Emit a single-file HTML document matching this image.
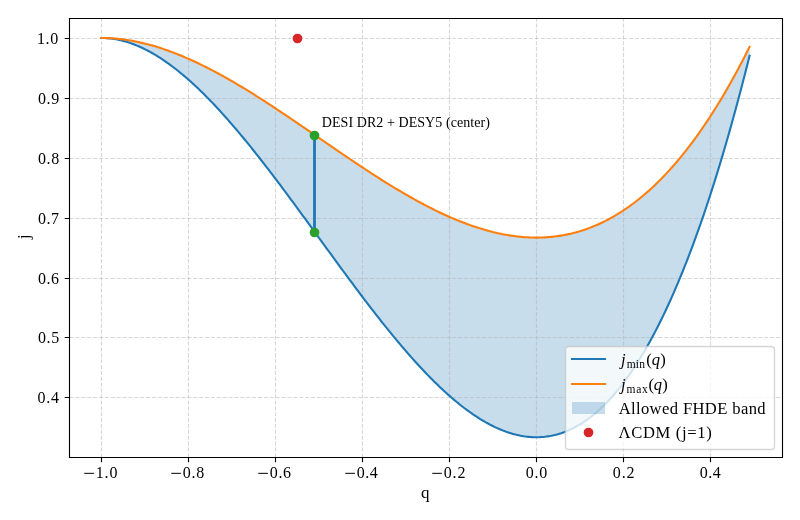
<!DOCTYPE html>
<html><head><meta charset="utf-8"><title>j(q) allowed FHDE band</title>
<style>html,body{margin:0;padding:0;background:#fff;}svg{display:block;will-change:transform;}text{font-family:"Liberation Serif",serif;fill:#000;}</style></head><body>
<svg width="800" height="520" viewBox="0 0 800 520">
<rect x="0" y="0" width="800" height="520" fill="#fff"/>
<polygon points="101.23,37.96 102.85,37.98 104.48,38.03 106.10,38.11 107.73,38.23 109.35,38.38 110.98,38.56 112.60,38.77 114.23,39.01 115.85,39.29 117.48,39.59 119.10,39.93 120.73,40.30 122.35,40.70 123.98,41.12 125.60,41.58 127.23,42.07 128.85,42.59 130.48,43.13 132.10,43.71 133.73,44.31 135.35,44.95 136.98,45.61 138.60,46.29 140.23,47.01 141.85,47.75 143.48,48.52 145.10,49.32 146.73,50.15 148.35,51.00 149.98,51.87 151.60,52.78 153.23,53.71 154.85,54.66 156.48,55.64 158.10,56.64 159.73,57.67 161.35,58.73 162.98,59.80 164.60,60.90 166.23,62.03 167.85,63.18 169.48,64.35 171.10,65.54 172.73,66.76 174.35,68.00 175.98,69.26 177.60,70.55 179.23,71.85 180.85,73.18 182.48,74.53 184.10,75.89 185.73,77.28 187.35,78.69 188.98,80.12 190.60,81.57 192.23,83.04 193.85,84.53 195.48,86.04 197.10,87.57 198.73,89.12 200.35,90.68 201.98,92.26 203.60,93.86 205.23,95.48 206.85,97.12 208.48,98.77 210.10,100.44 211.73,102.13 213.35,103.83 214.98,105.55 216.60,107.28 218.23,109.04 219.85,110.80 221.48,112.58 223.10,114.38 224.73,116.19 226.35,118.02 227.98,119.86 229.60,121.71 231.22,123.58 232.85,125.46 234.47,127.35 236.10,129.26 237.72,131.18 239.35,133.11 240.97,135.06 242.60,137.01 244.22,138.98 245.85,140.96 247.47,142.95 249.10,144.95 250.72,146.96 252.35,148.99 253.97,151.02 255.60,153.06 257.22,155.12 258.85,157.18 260.47,159.25 262.10,161.33 263.72,163.42 265.35,165.52 266.97,167.62 268.60,169.74 270.22,171.86 271.85,173.99 273.47,176.12 275.10,178.26 276.72,180.41 278.35,182.57 279.97,184.73 281.60,186.90 283.22,189.07 284.85,191.25 286.47,193.44 288.10,195.63 289.72,197.82 291.35,200.02 292.97,202.22 294.60,204.43 296.22,206.64 297.85,208.86 299.47,211.07 301.10,213.29 302.72,215.52 304.35,217.74 305.97,219.97 307.60,222.20 309.22,224.43 310.85,226.66 312.47,228.90 314.10,231.13 315.72,233.37 317.35,235.61 318.97,237.84 320.60,240.08 322.22,242.31 323.85,244.55 325.47,246.79 327.10,249.02 328.72,251.25 330.35,253.48 331.97,255.71 333.60,257.94 335.22,260.16 336.85,262.39 338.47,264.61 340.10,266.82 341.72,269.04 343.35,271.25 344.97,273.45 346.60,275.65 348.22,277.85 349.85,280.05 351.47,282.23 353.10,284.42 354.72,286.60 356.35,288.77 357.97,290.94 359.60,293.10 361.22,295.25 362.85,297.40 364.47,299.54 366.10,301.68 367.72,303.80 369.35,305.92 370.97,308.03 372.60,310.14 374.22,312.23 375.85,314.32 377.47,316.40 379.09,318.47 380.72,320.53 382.34,322.58 383.97,324.62 385.59,326.65 387.22,328.67 388.84,330.68 390.47,332.68 392.09,334.67 393.72,336.65 395.34,338.61 396.97,340.57 398.59,342.51 400.22,344.44 401.84,346.35 403.47,348.26 405.09,350.15 406.72,352.03 408.34,353.89 409.97,355.74 411.59,357.58 413.22,359.40 414.84,361.21 416.47,363.00 418.09,364.78 419.72,366.55 421.34,368.29 422.97,370.02 424.59,371.74 426.22,373.44 427.84,375.12 429.47,376.79 431.09,378.44 432.72,380.07 434.34,381.68 435.97,383.28 437.59,384.86 439.22,386.42 440.84,387.96 442.47,389.49 444.09,390.99 445.72,392.48 447.34,393.94 448.97,395.39 450.59,396.81 452.22,398.22 453.84,399.60 455.47,400.97 457.09,402.31 458.72,403.63 460.34,404.94 461.97,406.21 463.59,407.47 465.22,408.71 466.84,409.92 468.47,411.11 470.09,412.27 471.72,413.42 473.34,414.54 474.97,415.63 476.59,416.71 478.22,417.75 479.84,418.78 481.47,419.78 483.09,420.75 484.72,421.70 486.34,422.62 487.97,423.52 489.59,424.39 491.22,425.24 492.84,426.05 494.47,426.85 496.09,427.61 497.72,428.35 499.34,429.06 500.97,429.74 502.59,430.40 504.22,431.02 505.84,431.62 507.47,432.19 509.09,432.73 510.72,433.24 512.34,433.72 513.97,434.17 515.59,434.60 517.22,434.99 518.84,435.35 520.47,435.68 522.09,435.98 523.72,436.25 525.34,436.48 526.96,436.69 528.59,436.86 530.21,437.00 531.84,437.11 533.46,437.19 535.09,437.23 536.71,437.24 538.34,437.21 539.96,437.16 541.59,437.07 543.21,436.94 544.84,436.78 546.46,436.58 548.09,436.35 549.71,436.09 551.34,435.79 552.96,435.45 554.59,435.08 556.21,434.67 557.84,434.23 559.46,433.74 561.09,433.23 562.71,432.67 564.34,432.08 565.96,431.45 567.59,430.78 569.21,430.07 570.84,429.32 572.46,428.54 574.09,427.72 575.71,426.85 577.34,425.95 578.96,425.01 580.59,424.03 582.21,423.01 583.84,421.95 585.46,420.84 587.09,419.70 588.71,418.51 590.34,417.29 591.96,416.02 593.59,414.71 595.21,413.36 596.84,411.96 598.46,410.52 600.09,409.04 601.71,407.52 603.34,405.95 604.96,404.34 606.59,402.69 608.21,400.99 609.84,399.25 611.46,397.46 613.09,395.63 614.71,393.75 616.34,391.82 617.96,389.85 619.59,387.84 621.21,385.78 622.84,383.67 624.46,381.52 626.09,379.31 627.71,377.07 629.34,374.77 630.96,372.43 632.59,370.03 634.21,367.59 635.84,365.11 637.46,362.57 639.09,359.98 640.71,357.35 642.34,354.66 643.96,351.93 645.59,349.15 647.21,346.31 648.84,343.43 650.46,340.49 652.09,337.51 653.71,334.47 655.34,331.38 656.96,328.24 658.59,325.05 660.21,321.80 661.84,318.50 663.46,315.15 665.09,311.75 666.71,308.30 668.34,304.79 669.96,301.22 671.58,297.61 673.21,293.94 674.83,290.21 676.46,286.43 678.08,282.59 679.71,278.70 681.33,274.76 682.96,270.76 684.58,266.70 686.21,262.59 687.83,258.42 689.46,254.19 691.08,249.91 692.71,245.57 694.33,241.17 695.96,236.71 697.58,232.20 699.21,227.63 700.83,223.00 702.46,218.31 704.08,213.56 705.71,208.75 707.33,203.89 708.96,198.96 710.58,193.98 712.21,188.93 713.83,183.82 715.46,178.66 717.08,173.43 718.71,168.14 720.33,162.79 721.96,157.38 723.58,151.90 725.21,146.37 726.83,140.77 728.46,135.11 730.08,129.38 731.71,123.59 733.33,117.74 734.96,111.83 736.58,105.85 738.21,99.81 739.83,93.70 741.46,87.53 743.08,81.29 744.71,74.99 746.33,68.62 747.96,62.19 749.58,55.69 749.58,46.83 747.96,50.08 746.33,53.29 744.71,56.48 743.08,59.63 741.46,62.75 739.83,65.83 738.21,68.89 736.58,71.91 734.96,74.90 733.33,77.85 731.71,80.78 730.08,83.67 728.46,86.53 726.83,89.37 725.21,92.16 723.58,94.93 721.96,97.67 720.33,100.38 718.71,103.05 717.08,105.70 715.46,108.31 713.83,110.89 712.21,113.45 710.58,115.97 708.96,118.46 707.33,120.93 705.71,123.36 704.08,125.76 702.46,128.14 700.83,130.48 699.21,132.80 697.58,135.08 695.96,137.34 694.33,139.57 692.71,141.76 691.08,143.94 689.46,146.08 687.83,148.19 686.21,150.28 684.58,152.33 682.96,154.36 681.33,156.36 679.71,158.33 678.08,160.28 676.46,162.20 674.83,164.09 673.21,165.95 671.58,167.78 669.96,169.59 668.34,171.37 666.71,173.13 665.09,174.86 663.46,176.56 661.84,178.23 660.21,179.88 658.59,181.50 656.96,183.10 655.34,184.67 653.71,186.22 652.09,187.73 650.46,189.23 648.84,190.70 647.21,192.14 645.59,193.55 643.96,194.95 642.34,196.31 640.71,197.66 639.09,198.97 637.46,200.27 635.84,201.54 634.21,202.78 632.59,204.00 630.96,205.19 629.34,206.37 627.71,207.51 626.09,208.64 624.46,209.74 622.84,210.82 621.21,211.87 619.59,212.90 617.96,213.91 616.34,214.89 614.71,215.86 613.09,216.79 611.46,217.71 609.84,218.61 608.21,219.48 606.59,220.33 604.96,221.15 603.34,221.96 601.71,222.74 600.09,223.50 598.46,224.24 596.84,224.96 595.21,225.66 593.59,226.34 591.96,226.99 590.34,227.63 588.71,228.24 587.09,228.83 585.46,229.40 583.84,229.95 582.21,230.49 580.59,231.00 578.96,231.49 577.34,231.96 575.71,232.41 574.09,232.84 572.46,233.25 570.84,233.64 569.21,234.02 567.59,234.37 565.96,234.71 564.34,235.02 562.71,235.32 561.09,235.60 559.46,235.85 557.84,236.10 556.21,236.32 554.59,236.52 552.96,236.71 551.34,236.88 549.71,237.03 548.09,237.16 546.46,237.27 544.84,237.37 543.21,237.45 541.59,237.51 539.96,237.56 538.34,237.59 536.71,237.60 535.09,237.60 533.46,237.58 531.84,237.54 530.21,237.48 528.59,237.41 526.96,237.33 525.34,237.22 523.72,237.11 522.09,236.97 520.47,236.82 518.84,236.66 517.22,236.48 515.59,236.28 513.97,236.07 512.34,235.84 510.72,235.60 509.09,235.35 507.47,235.08 505.84,234.79 504.22,234.49 502.59,234.18 500.97,233.85 499.34,233.51 497.72,233.16 496.09,232.79 494.47,232.41 492.84,232.01 491.22,231.60 489.59,231.18 487.97,230.74 486.34,230.29 484.72,229.83 483.09,229.36 481.47,228.87 479.84,228.37 478.22,227.86 476.59,227.34 474.97,226.80 473.34,226.25 471.72,225.69 470.09,225.12 468.47,224.54 466.84,223.94 465.22,223.34 463.59,222.72 461.97,222.09 460.34,221.45 458.72,220.80 457.09,220.14 455.47,219.47 453.84,218.78 452.22,218.09 450.59,217.39 448.97,216.68 447.34,215.95 445.72,215.22 444.09,214.48 442.47,213.73 440.84,212.96 439.22,212.19 437.59,211.41 435.97,210.62 434.34,209.82 432.72,209.02 431.09,208.20 429.47,207.38 427.84,206.54 426.22,205.70 424.59,204.85 422.97,203.99 421.34,203.13 419.72,202.25 418.09,201.37 416.47,200.48 414.84,199.59 413.22,198.68 411.59,197.77 409.97,196.85 408.34,195.93 406.72,195.00 405.09,194.06 403.47,193.11 401.84,192.16 400.22,191.20 398.59,190.24 396.97,189.26 395.34,188.29 393.72,187.31 392.09,186.32 390.47,185.32 388.84,184.32 387.22,183.32 385.59,182.31 383.97,181.29 382.34,180.27 380.72,179.25 379.09,178.22 377.47,177.18 375.85,176.14 374.22,175.10 372.60,174.05 370.97,173.00 369.35,171.94 367.72,170.88 366.10,169.82 364.47,168.75 362.85,167.68 361.22,166.61 359.60,165.53 357.97,164.45 356.35,163.37 354.72,162.28 353.10,161.19 351.47,160.10 349.85,159.00 348.22,157.91 346.60,156.81 344.97,155.71 343.35,154.61 341.72,153.50 340.10,152.39 338.47,151.29 336.85,150.18 335.22,149.06 333.60,147.95 331.97,146.84 330.35,145.72 328.72,144.61 327.10,143.49 325.47,142.37 323.85,141.26 322.22,140.14 320.60,139.02 318.97,137.90 317.35,136.78 315.72,135.67 314.10,134.55 312.47,133.43 310.85,132.31 309.22,131.20 307.60,130.08 305.97,128.97 304.35,127.85 302.72,126.74 301.10,125.63 299.47,124.52 297.85,123.41 296.22,122.30 294.60,121.20 292.97,120.09 291.35,118.99 289.72,117.89 288.10,116.80 286.47,115.70 284.85,114.61 283.22,113.52 281.60,112.43 279.97,111.35 278.35,110.27 276.72,109.19 275.10,108.11 273.47,107.04 271.85,105.97 270.22,104.91 268.60,103.85 266.97,102.79 265.35,101.74 263.72,100.69 262.10,99.65 260.47,98.61 258.85,97.57 257.22,96.54 255.60,95.51 253.97,94.49 252.35,93.48 250.72,92.46 249.10,91.46 247.47,90.46 245.85,89.46 244.22,88.47 242.60,87.49 240.97,86.51 239.35,85.54 237.72,84.57 236.10,83.61 234.47,82.66 232.85,81.71 231.22,80.77 229.60,79.84 227.98,78.91 226.35,77.99 224.73,77.08 223.10,76.17 221.48,75.27 219.85,74.38 218.23,73.50 216.60,72.62 214.98,71.76 213.35,70.90 211.73,70.05 210.10,69.20 208.48,68.37 206.85,67.54 205.23,66.72 203.60,65.91 201.98,65.11 200.35,64.32 198.73,63.54 197.10,62.77 195.48,62.00 193.85,61.25 192.23,60.50 190.60,59.77 188.98,59.04 187.35,58.33 185.73,57.62 184.10,56.93 182.48,56.24 180.85,55.57 179.23,54.91 177.60,54.25 175.98,53.61 174.35,52.98 172.73,52.36 171.10,51.75 169.48,51.16 167.85,50.57 166.23,50.00 164.60,49.43 162.98,48.88 161.35,48.34 159.73,47.82 158.10,47.30 156.48,46.80 154.85,46.31 153.23,45.83 151.60,45.37 149.98,44.92 148.35,44.48 146.73,44.06 145.10,43.64 143.48,43.24 141.85,42.86 140.23,42.49 138.60,42.13 136.98,41.78 135.35,41.45 133.73,41.14 132.10,40.84 130.48,40.55 128.85,40.28 127.23,40.02 125.60,39.77 123.98,39.54 122.35,39.33 120.73,39.13 119.10,38.95 117.48,38.78 115.85,38.63 114.23,38.49 112.60,38.37 110.98,38.26 109.35,38.17 107.73,38.10 106.10,38.04 104.48,38.00 102.85,37.97 101.23,37.96" fill="#1f77b4" fill-opacity="0.25"/>
<path d="M101.5 457.5V18.5" stroke="#b0b0b0" stroke-opacity="0.5" stroke-width="1.111" stroke-dasharray="4.111 1.778" fill="none"/>
<path d="M188.5 457.5V18.5" stroke="#b0b0b0" stroke-opacity="0.5" stroke-width="1.111" stroke-dasharray="4.111 1.778" fill="none"/>
<path d="M275.5 457.5V18.5" stroke="#b0b0b0" stroke-opacity="0.5" stroke-width="1.111" stroke-dasharray="4.111 1.778" fill="none"/>
<path d="M362.5 457.5V18.5" stroke="#b0b0b0" stroke-opacity="0.5" stroke-width="1.111" stroke-dasharray="4.111 1.778" fill="none"/>
<path d="M449.5 457.5V18.5" stroke="#b0b0b0" stroke-opacity="0.5" stroke-width="1.111" stroke-dasharray="4.111 1.778" fill="none"/>
<path d="M536.5 457.5V18.5" stroke="#b0b0b0" stroke-opacity="0.5" stroke-width="1.111" stroke-dasharray="4.111 1.778" fill="none"/>
<path d="M623.5 457.5V18.5" stroke="#b0b0b0" stroke-opacity="0.5" stroke-width="1.111" stroke-dasharray="4.111 1.778" fill="none"/>
<path d="M710.5 457.5V18.5" stroke="#b0b0b0" stroke-opacity="0.5" stroke-width="1.111" stroke-dasharray="4.111 1.778" fill="none"/>
<path d="M69.5 397.5H782.5" stroke="#b0b0b0" stroke-opacity="0.5" stroke-width="1.111" stroke-dasharray="4.111 1.778" fill="none"/>
<path d="M69.5 337.5H782.5" stroke="#b0b0b0" stroke-opacity="0.5" stroke-width="1.111" stroke-dasharray="4.111 1.778" fill="none"/>
<path d="M69.5 278.5H782.5" stroke="#b0b0b0" stroke-opacity="0.5" stroke-width="1.111" stroke-dasharray="4.111 1.778" fill="none"/>
<path d="M69.5 218.5H782.5" stroke="#b0b0b0" stroke-opacity="0.5" stroke-width="1.111" stroke-dasharray="4.111 1.778" fill="none"/>
<path d="M69.5 158.5H782.5" stroke="#b0b0b0" stroke-opacity="0.5" stroke-width="1.111" stroke-dasharray="4.111 1.778" fill="none"/>
<path d="M69.5 98.5H782.5" stroke="#b0b0b0" stroke-opacity="0.5" stroke-width="1.111" stroke-dasharray="4.111 1.778" fill="none"/>
<path d="M69.5 38.5H782.5" stroke="#b0b0b0" stroke-opacity="0.5" stroke-width="1.111" stroke-dasharray="4.111 1.778" fill="none"/>
<polyline points="101.23,37.96 102.85,37.98 104.48,38.03 106.10,38.11 107.73,38.23 109.35,38.38 110.98,38.56 112.60,38.77 114.23,39.01 115.85,39.29 117.48,39.59 119.10,39.93 120.73,40.30 122.35,40.70 123.98,41.12 125.60,41.58 127.23,42.07 128.85,42.59 130.48,43.13 132.10,43.71 133.73,44.31 135.35,44.95 136.98,45.61 138.60,46.29 140.23,47.01 141.85,47.75 143.48,48.52 145.10,49.32 146.73,50.15 148.35,51.00 149.98,51.87 151.60,52.78 153.23,53.71 154.85,54.66 156.48,55.64 158.10,56.64 159.73,57.67 161.35,58.73 162.98,59.80 164.60,60.90 166.23,62.03 167.85,63.18 169.48,64.35 171.10,65.54 172.73,66.76 174.35,68.00 175.98,69.26 177.60,70.55 179.23,71.85 180.85,73.18 182.48,74.53 184.10,75.89 185.73,77.28 187.35,78.69 188.98,80.12 190.60,81.57 192.23,83.04 193.85,84.53 195.48,86.04 197.10,87.57 198.73,89.12 200.35,90.68 201.98,92.26 203.60,93.86 205.23,95.48 206.85,97.12 208.48,98.77 210.10,100.44 211.73,102.13 213.35,103.83 214.98,105.55 216.60,107.28 218.23,109.04 219.85,110.80 221.48,112.58 223.10,114.38 224.73,116.19 226.35,118.02 227.98,119.86 229.60,121.71 231.22,123.58 232.85,125.46 234.47,127.35 236.10,129.26 237.72,131.18 239.35,133.11 240.97,135.06 242.60,137.01 244.22,138.98 245.85,140.96 247.47,142.95 249.10,144.95 250.72,146.96 252.35,148.99 253.97,151.02 255.60,153.06 257.22,155.12 258.85,157.18 260.47,159.25 262.10,161.33 263.72,163.42 265.35,165.52 266.97,167.62 268.60,169.74 270.22,171.86 271.85,173.99 273.47,176.12 275.10,178.26 276.72,180.41 278.35,182.57 279.97,184.73 281.60,186.90 283.22,189.07 284.85,191.25 286.47,193.44 288.10,195.63 289.72,197.82 291.35,200.02 292.97,202.22 294.60,204.43 296.22,206.64 297.85,208.86 299.47,211.07 301.10,213.29 302.72,215.52 304.35,217.74 305.97,219.97 307.60,222.20 309.22,224.43 310.85,226.66 312.47,228.90 314.10,231.13 315.72,233.37 317.35,235.61 318.97,237.84 320.60,240.08 322.22,242.31 323.85,244.55 325.47,246.79 327.10,249.02 328.72,251.25 330.35,253.48 331.97,255.71 333.60,257.94 335.22,260.16 336.85,262.39 338.47,264.61 340.10,266.82 341.72,269.04 343.35,271.25 344.97,273.45 346.60,275.65 348.22,277.85 349.85,280.05 351.47,282.23 353.10,284.42 354.72,286.60 356.35,288.77 357.97,290.94 359.60,293.10 361.22,295.25 362.85,297.40 364.47,299.54 366.10,301.68 367.72,303.80 369.35,305.92 370.97,308.03 372.60,310.14 374.22,312.23 375.85,314.32 377.47,316.40 379.09,318.47 380.72,320.53 382.34,322.58 383.97,324.62 385.59,326.65 387.22,328.67 388.84,330.68 390.47,332.68 392.09,334.67 393.72,336.65 395.34,338.61 396.97,340.57 398.59,342.51 400.22,344.44 401.84,346.35 403.47,348.26 405.09,350.15 406.72,352.03 408.34,353.89 409.97,355.74 411.59,357.58 413.22,359.40 414.84,361.21 416.47,363.00 418.09,364.78 419.72,366.55 421.34,368.29 422.97,370.02 424.59,371.74 426.22,373.44 427.84,375.12 429.47,376.79 431.09,378.44 432.72,380.07 434.34,381.68 435.97,383.28 437.59,384.86 439.22,386.42 440.84,387.96 442.47,389.49 444.09,390.99 445.72,392.48 447.34,393.94 448.97,395.39 450.59,396.81 452.22,398.22 453.84,399.60 455.47,400.97 457.09,402.31 458.72,403.63 460.34,404.94 461.97,406.21 463.59,407.47 465.22,408.71 466.84,409.92 468.47,411.11 470.09,412.27 471.72,413.42 473.34,414.54 474.97,415.63 476.59,416.71 478.22,417.75 479.84,418.78 481.47,419.78 483.09,420.75 484.72,421.70 486.34,422.62 487.97,423.52 489.59,424.39 491.22,425.24 492.84,426.05 494.47,426.85 496.09,427.61 497.72,428.35 499.34,429.06 500.97,429.74 502.59,430.40 504.22,431.02 505.84,431.62 507.47,432.19 509.09,432.73 510.72,433.24 512.34,433.72 513.97,434.17 515.59,434.60 517.22,434.99 518.84,435.35 520.47,435.68 522.09,435.98 523.72,436.25 525.34,436.48 526.96,436.69 528.59,436.86 530.21,437.00 531.84,437.11 533.46,437.19 535.09,437.23 536.71,437.24 538.34,437.21 539.96,437.16 541.59,437.07 543.21,436.94 544.84,436.78 546.46,436.58 548.09,436.35 549.71,436.09 551.34,435.79 552.96,435.45 554.59,435.08 556.21,434.67 557.84,434.23 559.46,433.74 561.09,433.23 562.71,432.67 564.34,432.08 565.96,431.45 567.59,430.78 569.21,430.07 570.84,429.32 572.46,428.54 574.09,427.72 575.71,426.85 577.34,425.95 578.96,425.01 580.59,424.03 582.21,423.01 583.84,421.95 585.46,420.84 587.09,419.70 588.71,418.51 590.34,417.29 591.96,416.02 593.59,414.71 595.21,413.36 596.84,411.96 598.46,410.52 600.09,409.04 601.71,407.52 603.34,405.95 604.96,404.34 606.59,402.69 608.21,400.99 609.84,399.25 611.46,397.46 613.09,395.63 614.71,393.75 616.34,391.82 617.96,389.85 619.59,387.84 621.21,385.78 622.84,383.67 624.46,381.52 626.09,379.31 627.71,377.07 629.34,374.77 630.96,372.43 632.59,370.03 634.21,367.59 635.84,365.11 637.46,362.57 639.09,359.98 640.71,357.35 642.34,354.66 643.96,351.93 645.59,349.15 647.21,346.31 648.84,343.43 650.46,340.49 652.09,337.51 653.71,334.47 655.34,331.38 656.96,328.24 658.59,325.05 660.21,321.80 661.84,318.50 663.46,315.15 665.09,311.75 666.71,308.30 668.34,304.79 669.96,301.22 671.58,297.61 673.21,293.94 674.83,290.21 676.46,286.43 678.08,282.59 679.71,278.70 681.33,274.76 682.96,270.76 684.58,266.70 686.21,262.59 687.83,258.42 689.46,254.19 691.08,249.91 692.71,245.57 694.33,241.17 695.96,236.71 697.58,232.20 699.21,227.63 700.83,223.00 702.46,218.31 704.08,213.56 705.71,208.75 707.33,203.89 708.96,198.96 710.58,193.98 712.21,188.93 713.83,183.82 715.46,178.66 717.08,173.43 718.71,168.14 720.33,162.79 721.96,157.38 723.58,151.90 725.21,146.37 726.83,140.77 728.46,135.11 730.08,129.38 731.71,123.59 733.33,117.74 734.96,111.83 736.58,105.85 738.21,99.81 739.83,93.70 741.46,87.53 743.08,81.29 744.71,74.99 746.33,68.62 747.96,62.19 749.58,55.69" fill="none" stroke="#1f77b4" stroke-width="2.083" stroke-linecap="square" stroke-linejoin="round"/>
<polyline points="101.23,37.96 102.85,37.97 104.48,38.00 106.10,38.04 107.73,38.10 109.35,38.17 110.98,38.26 112.60,38.37 114.23,38.49 115.85,38.63 117.48,38.78 119.10,38.95 120.73,39.13 122.35,39.33 123.98,39.54 125.60,39.77 127.23,40.02 128.85,40.28 130.48,40.55 132.10,40.84 133.73,41.14 135.35,41.45 136.98,41.78 138.60,42.13 140.23,42.49 141.85,42.86 143.48,43.24 145.10,43.64 146.73,44.06 148.35,44.48 149.98,44.92 151.60,45.37 153.23,45.83 154.85,46.31 156.48,46.80 158.10,47.30 159.73,47.82 161.35,48.34 162.98,48.88 164.60,49.43 166.23,50.00 167.85,50.57 169.48,51.16 171.10,51.75 172.73,52.36 174.35,52.98 175.98,53.61 177.60,54.25 179.23,54.91 180.85,55.57 182.48,56.24 184.10,56.93 185.73,57.62 187.35,58.33 188.98,59.04 190.60,59.77 192.23,60.50 193.85,61.25 195.48,62.00 197.10,62.77 198.73,63.54 200.35,64.32 201.98,65.11 203.60,65.91 205.23,66.72 206.85,67.54 208.48,68.37 210.10,69.20 211.73,70.05 213.35,70.90 214.98,71.76 216.60,72.62 218.23,73.50 219.85,74.38 221.48,75.27 223.10,76.17 224.73,77.08 226.35,77.99 227.98,78.91 229.60,79.84 231.22,80.77 232.85,81.71 234.47,82.66 236.10,83.61 237.72,84.57 239.35,85.54 240.97,86.51 242.60,87.49 244.22,88.47 245.85,89.46 247.47,90.46 249.10,91.46 250.72,92.46 252.35,93.48 253.97,94.49 255.60,95.51 257.22,96.54 258.85,97.57 260.47,98.61 262.10,99.65 263.72,100.69 265.35,101.74 266.97,102.79 268.60,103.85 270.22,104.91 271.85,105.97 273.47,107.04 275.10,108.11 276.72,109.19 278.35,110.27 279.97,111.35 281.60,112.43 283.22,113.52 284.85,114.61 286.47,115.70 288.10,116.80 289.72,117.89 291.35,118.99 292.97,120.09 294.60,121.20 296.22,122.30 297.85,123.41 299.47,124.52 301.10,125.63 302.72,126.74 304.35,127.85 305.97,128.97 307.60,130.08 309.22,131.20 310.85,132.31 312.47,133.43 314.10,134.55 315.72,135.67 317.35,136.78 318.97,137.90 320.60,139.02 322.22,140.14 323.85,141.26 325.47,142.37 327.10,143.49 328.72,144.61 330.35,145.72 331.97,146.84 333.60,147.95 335.22,149.06 336.85,150.18 338.47,151.29 340.10,152.39 341.72,153.50 343.35,154.61 344.97,155.71 346.60,156.81 348.22,157.91 349.85,159.00 351.47,160.10 353.10,161.19 354.72,162.28 356.35,163.37 357.97,164.45 359.60,165.53 361.22,166.61 362.85,167.68 364.47,168.75 366.10,169.82 367.72,170.88 369.35,171.94 370.97,173.00 372.60,174.05 374.22,175.10 375.85,176.14 377.47,177.18 379.09,178.22 380.72,179.25 382.34,180.27 383.97,181.29 385.59,182.31 387.22,183.32 388.84,184.32 390.47,185.32 392.09,186.32 393.72,187.31 395.34,188.29 396.97,189.26 398.59,190.24 400.22,191.20 401.84,192.16 403.47,193.11 405.09,194.06 406.72,195.00 408.34,195.93 409.97,196.85 411.59,197.77 413.22,198.68 414.84,199.59 416.47,200.48 418.09,201.37 419.72,202.25 421.34,203.13 422.97,203.99 424.59,204.85 426.22,205.70 427.84,206.54 429.47,207.38 431.09,208.20 432.72,209.02 434.34,209.82 435.97,210.62 437.59,211.41 439.22,212.19 440.84,212.96 442.47,213.73 444.09,214.48 445.72,215.22 447.34,215.95 448.97,216.68 450.59,217.39 452.22,218.09 453.84,218.78 455.47,219.47 457.09,220.14 458.72,220.80 460.34,221.45 461.97,222.09 463.59,222.72 465.22,223.34 466.84,223.94 468.47,224.54 470.09,225.12 471.72,225.69 473.34,226.25 474.97,226.80 476.59,227.34 478.22,227.86 479.84,228.37 481.47,228.87 483.09,229.36 484.72,229.83 486.34,230.29 487.97,230.74 489.59,231.18 491.22,231.60 492.84,232.01 494.47,232.41 496.09,232.79 497.72,233.16 499.34,233.51 500.97,233.85 502.59,234.18 504.22,234.49 505.84,234.79 507.47,235.08 509.09,235.35 510.72,235.60 512.34,235.84 513.97,236.07 515.59,236.28 517.22,236.48 518.84,236.66 520.47,236.82 522.09,236.97 523.72,237.11 525.34,237.22 526.96,237.33 528.59,237.41 530.21,237.48 531.84,237.54 533.46,237.58 535.09,237.60 536.71,237.60 538.34,237.59 539.96,237.56 541.59,237.51 543.21,237.45 544.84,237.37 546.46,237.27 548.09,237.16 549.71,237.03 551.34,236.88 552.96,236.71 554.59,236.52 556.21,236.32 557.84,236.10 559.46,235.85 561.09,235.60 562.71,235.32 564.34,235.02 565.96,234.71 567.59,234.37 569.21,234.02 570.84,233.64 572.46,233.25 574.09,232.84 575.71,232.41 577.34,231.96 578.96,231.49 580.59,231.00 582.21,230.49 583.84,229.95 585.46,229.40 587.09,228.83 588.71,228.24 590.34,227.63 591.96,226.99 593.59,226.34 595.21,225.66 596.84,224.96 598.46,224.24 600.09,223.50 601.71,222.74 603.34,221.96 604.96,221.15 606.59,220.33 608.21,219.48 609.84,218.61 611.46,217.71 613.09,216.79 614.71,215.86 616.34,214.89 617.96,213.91 619.59,212.90 621.21,211.87 622.84,210.82 624.46,209.74 626.09,208.64 627.71,207.51 629.34,206.37 630.96,205.19 632.59,204.00 634.21,202.78 635.84,201.54 637.46,200.27 639.09,198.97 640.71,197.66 642.34,196.31 643.96,194.95 645.59,193.55 647.21,192.14 648.84,190.70 650.46,189.23 652.09,187.73 653.71,186.22 655.34,184.67 656.96,183.10 658.59,181.50 660.21,179.88 661.84,178.23 663.46,176.56 665.09,174.86 666.71,173.13 668.34,171.37 669.96,169.59 671.58,167.78 673.21,165.95 674.83,164.09 676.46,162.20 678.08,160.28 679.71,158.33 681.33,156.36 682.96,154.36 684.58,152.33 686.21,150.28 687.83,148.19 689.46,146.08 691.08,143.94 692.71,141.76 694.33,139.57 695.96,137.34 697.58,135.08 699.21,132.80 700.83,130.48 702.46,128.14 704.08,125.76 705.71,123.36 707.33,120.93 708.96,118.46 710.58,115.97 712.21,113.45 713.83,110.89 715.46,108.31 717.08,105.70 718.71,103.05 720.33,100.38 721.96,97.67 723.58,94.93 725.21,92.16 726.83,89.37 728.46,86.53 730.08,83.67 731.71,80.78 733.33,77.85 734.96,74.90 736.58,71.91 738.21,68.89 739.83,65.83 741.46,62.75 743.08,59.63 744.71,56.48 746.33,53.29 747.96,50.08 749.58,46.83" fill="none" stroke="#ff7f0e" stroke-width="2.083" stroke-linecap="square" stroke-linejoin="round"/>
<circle cx="297.5" cy="38.5" r="4.167" fill="#d62728" stroke="#d62728" stroke-width="1.389"/>
<path d="M314.5 135.5V232.5" stroke="#1f77b4" stroke-width="2.778" stroke-linecap="square"/>
<circle cx="314.5" cy="135.5" r="4.167" fill="#2ca02c" stroke="#2ca02c" stroke-width="1.389"/>
<circle cx="314.5" cy="232.5" r="4.167" fill="#2ca02c" stroke="#2ca02c" stroke-width="1.389"/>
<path d="M69.5 457.5V18.5H782.5V457.5Z" fill="none" stroke="#000" stroke-width="1.111" stroke-linejoin="miter" stroke-linecap="square"/>
<path d="M101.5 457.5v4.861 M188.5 457.5v4.861 M275.5 457.5v4.861 M362.5 457.5v4.861 M449.5 457.5v4.861 M536.5 457.5v4.861 M623.5 457.5v4.861 M710.5 457.5v4.861 M69.5 397.5h-4.861 M69.5 337.5h-4.861 M69.5 278.5h-4.861 M69.5 218.5h-4.861 M69.5 158.5h-4.861 M69.5 98.5h-4.861 M69.5 38.5h-4.861" stroke="#000" stroke-width="1.111" fill="none"/>
<text font-size="16"><tspan x="37.59" y="402.71" letter-spacing="0.73">0.4</tspan></text>
<text font-size="16"><tspan x="37.89" y="342.66" letter-spacing="0.667">0.5</tspan></text>
<text font-size="16"><tspan x="37.89" y="283.66" letter-spacing="0.593">0.6</tspan></text>
<text font-size="16"><tspan x="37.89" y="223.66" letter-spacing="0.585">0.7</tspan></text>
<text font-size="16"><tspan x="37.89" y="163.66" letter-spacing="0.659">0.8</tspan></text>
<text font-size="16"><tspan x="37.89" y="103.66" letter-spacing="0.683">0.9</tspan></text>
<text font-size="16"><tspan x="36.89" y="43.63" letter-spacing="0.658">1.0</tspan></text>
<text font-size="16"><tspan x="83.17" y="480.37" font-size="20.7">−</tspan><tspan x="95.79" y="477.71" letter-spacing="0.808">1.0</tspan></text>
<text font-size="16"><tspan x="170.17" y="480.37" font-size="20.7">−</tspan><tspan x="182.84" y="477.71" letter-spacing="0.659">0.8</tspan></text>
<text font-size="16"><tspan x="257.17" y="480.37" font-size="20.7">−</tspan><tspan x="269.84" y="477.71" letter-spacing="0.593">0.6</tspan></text>
<text font-size="16"><tspan x="344.17" y="480.37" font-size="20.7">−</tspan><tspan x="356.84" y="477.71" letter-spacing="0.48">0.4</tspan></text>
<text font-size="16"><tspan x="431.17" y="480.37" font-size="20.7">−</tspan><tspan x="443.84" y="477.71" letter-spacing="0.796">0.2</tspan></text>
<text font-size="16"><tspan x="525.84" y="477.81" letter-spacing="0.684">0.0</tspan></text>
<text font-size="16"><tspan x="612.84" y="477.81" letter-spacing="0.821">0.2</tspan></text>
<text font-size="16"><tspan x="699.84" y="477.81" letter-spacing="0.505">0.4</tspan></text>
<text font-size="17"><tspan x="421.0" y="498.03">q</tspan></text>
<text font-size="16.7" transform="rotate(-90 29.16 238.91)" x="29.16" y="238.91">j</text>
<text font-size="14.0"><tspan x="321.8" y="127.0" letter-spacing="0.066">DESI DR2 + DESY5 (center)</tspan></text>
<path d="M568.833 346.500H771.167Q774.500 346.500 774.500 349.833V446.167Q774.500 449.500 771.167 449.500H568.833Q565.500 449.500 565.500 446.167V349.833Q565.500 346.500 568.833 346.500Z" fill="#fff" stroke="#ccc" stroke-width="1.389" opacity="0.8"/>
<path d="M572 359H605" stroke="#1f77b4" stroke-width="2.083" stroke-linecap="square"/>
<path d="M572 384H605" stroke="#ff7f0e" stroke-width="2.083" stroke-linecap="square"/>
<rect x="572" y="402" width="33" height="12" fill="#1f77b4" fill-opacity="0.25"/>
<circle cx="588.5" cy="432.5" r="4.167" fill="#d62728" stroke="#d62728" stroke-width="1.389"/>
<text><tspan x="621.11" y="364.95" font-size="16.6" font-style="italic">j</tspan><tspan x="626.76" y="367.6" font-size="11.5" letter-spacing="0.163">min</tspan><tspan x="646.24" y="364.95" font-size="16.6">(</tspan><tspan x="651.77" y="364.95" font-size="16.6" font-style="italic">q</tspan><tspan x="660.33" y="364.95" font-size="16.6">)</tspan></text>
<text><tspan x="621.11" y="389.89" font-size="16.6" font-style="italic">j</tspan><tspan x="626.46" y="392.54" font-size="11.5" letter-spacing="0.741">max</tspan><tspan x="648.39" y="389.89" font-size="16.6">(</tspan><tspan x="653.77" y="389.89" font-size="16.6" font-style="italic">q</tspan><tspan x="662.23" y="389.89" font-size="16.6">)</tspan></text>
<text font-size="16.6"><tspan x="618.64" y="413.8" letter-spacing="0.374">Allowed FHDE band</tspan></text>
<text font-size="16.6"><tspan x="618.54" y="437.9" letter-spacing="0.651">ΛCDM (j=1)</tspan></text>
</svg>
</body></html>
